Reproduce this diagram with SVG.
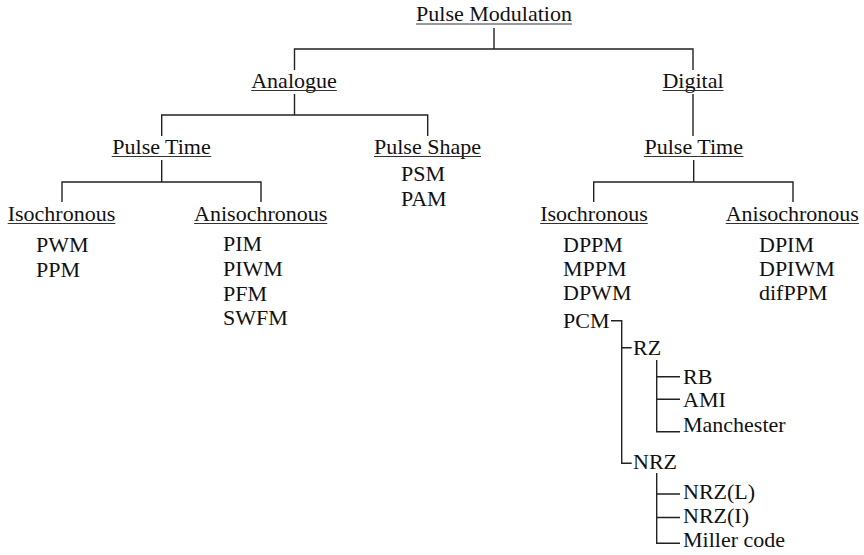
<svg xmlns="http://www.w3.org/2000/svg" width="864" height="555" viewBox="0 0 864 555">
<style>
text{font-family:"Liberation Serif","Times New Roman",serif;font-size:22px;fill:#111}
.c{text-anchor:middle}
.u{stroke:#333;stroke-width:1.2}
.ln{fill:none;stroke:#222;stroke-width:1.4}
</style>
<rect width="864" height="555" fill="#fff"/>
<g id="connectors" class="ln">
<path d="M494 28 V49 M294.5 70 V49 H693 V70"/>
<path d="M294.5 94 V115 M161.7 136 V115 H427.7 V136"/>
<path d="M693 94 V136"/>
<path d="M161.7 160 V182 M62 202 V182 H261 V202"/>
<path d="M693.7 160 V182 M593.7 202 V182 H793 V202"/>
<path d="M611 320.7 H621.7 V463.3 H631.7 M621.7 347.7 H631.7"/>
<path d="M656.7 360 V431.7 H680 M656.7 376.7 H680 M656.7 399.3 H680"/>
<path d="M656.7 473 V543.3 H680 M656.7 494 H680 M656.7 517.5 H680"/>
</g>
<g id="n-pulse-modulation"><text class="c" x="494" y="21">Pulse Modulation</text><line class="u" x1="416.1" y1="24" x2="571.9" y2="24"/></g>
<g id="n-analogue"><text class="c" x="294" y="88">Analogue</text><line class="u" x1="251.2" y1="90.5" x2="336.8" y2="90.5"/></g>
<g id="n-digital"><text class="c" x="693" y="88">Digital</text><line class="u" x1="662.4" y1="90.5" x2="723.6" y2="90.5"/></g>
<g id="n-a-pulse-time"><text class="c" x="161.5" y="154">Pulse Time</text><line class="u" x1="111.7" y1="156.5" x2="211.3" y2="156.5"/></g>
<g id="n-pulse-shape"><text class="c" x="427.5" y="154">Pulse Shape</text><line class="u" x1="374" y1="156.5" x2="481" y2="156.5"/>
<text x="401" y="181">PSM</text><text x="401" y="206">PAM</text></g>
<g id="n-d-pulse-time"><text class="c" x="693.7" y="154">Pulse Time</text><line class="u" x1="643.9" y1="156.5" x2="743.5" y2="156.5"/></g>
<g id="n-a-iso"><text class="c" x="61.5" y="221">Isochronous</text><line class="u" x1="7.7" y1="223.5" x2="115.3" y2="223.5"/>
<text x="36" y="252">PWM</text><text x="36" y="277">PPM</text></g>
<g id="n-a-aniso"><text class="c" x="260.7" y="221">Anisochronous</text><line class="u" x1="194.1" y1="223.5" x2="327.3" y2="223.5"/>
<text x="223" y="251">PIM</text><text x="223" y="276">PIWM</text><text x="223" y="300.5">PFM</text><text x="223" y="325">SWFM</text></g>
<g id="n-d-iso"><text class="c" x="594" y="221">Isochronous</text><line class="u" x1="540.2" y1="223.5" x2="647.8" y2="223.5"/>
<text x="563" y="252">DPPM</text><text x="563" y="276">MPPM</text><text x="563" y="300">DPWM</text></g>
<g id="n-d-aniso"><text class="c" x="792.3" y="221">Anisochronous</text><line class="u" x1="725.7" y1="223.5" x2="858.9" y2="223.5"/>
<text x="759" y="252">DPIM</text><text x="759" y="276">DPIWM</text><text x="759" y="300">difPPM</text></g>
<g id="n-pcm"><text x="563" y="328">PCM</text></g>
<g id="n-rz"><text x="633" y="355">RZ</text></g>
<g id="n-rb"><text x="683" y="384">RB</text></g>
<g id="n-ami"><text x="683" y="407">AMI</text></g>
<g id="n-manchester"><text x="683" y="432">Manchester</text></g>
<g id="n-nrz"><text x="633" y="469">NRZ</text></g>
<g id="n-nrzl"><text x="683" y="499">NRZ(L)</text></g>
<g id="n-nrzi"><text x="683" y="522.5">NRZ(I)</text></g>
<g id="n-miller"><text x="683" y="547">Miller code</text></g>
</svg>
